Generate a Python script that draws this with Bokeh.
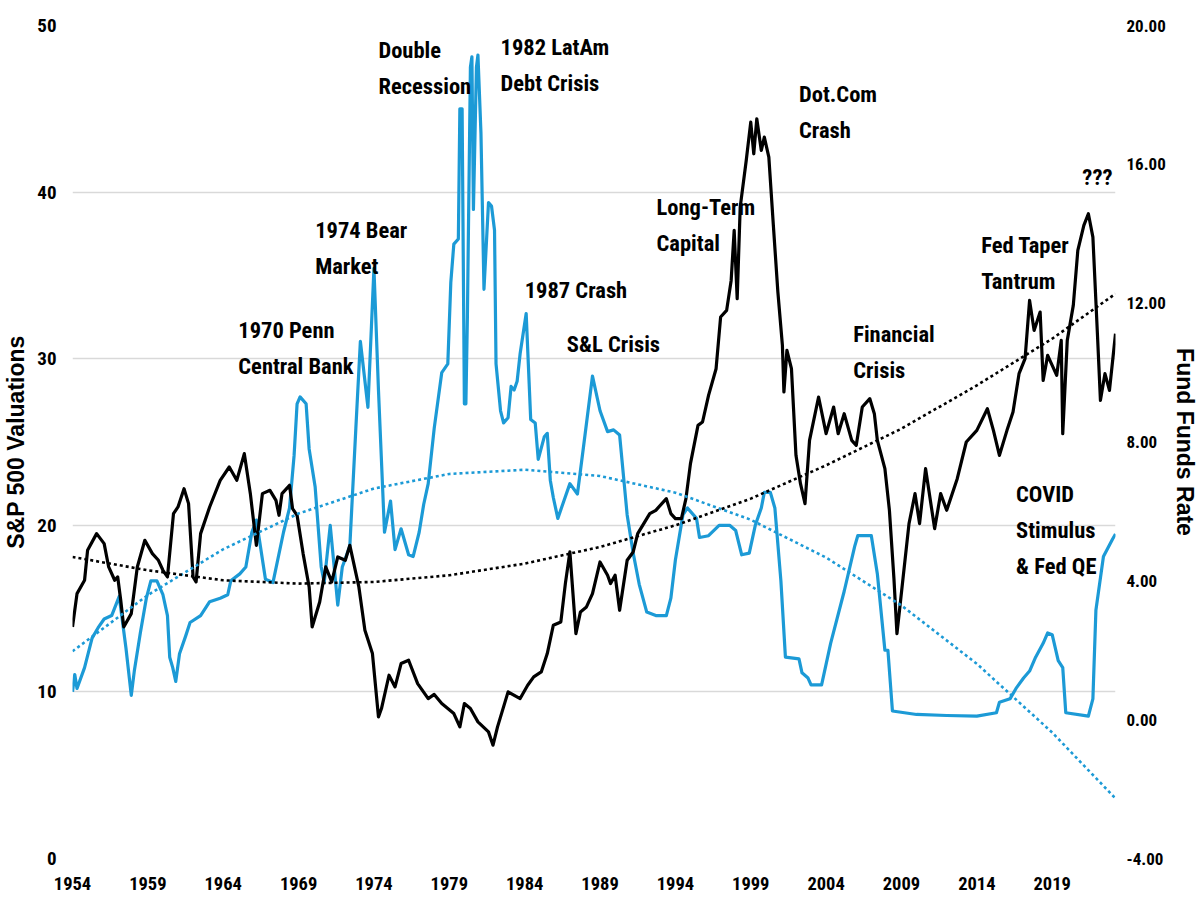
from bokeh.plotting import figure
from bokeh.models import Range1d, LinearAxis, FixedTicker, NumeralTickFormatter, ColumnDataSource
from bokeh.core.properties import value
from bokeh.embed import file_html
from bokeh.resources import INLINE

# ---------------- data ----------------
cape_year = [
    1954.0, 1954.3, 1954.8, 1955.0, 1955.6, 1956.1, 1956.4, 1956.8, 1957.0, 1957.2, 1957.4, 1957.9,
    1958.3, 1958.8, 1959.3, 1959.7,
    1960.0, 1960.3, 1960.7, 1961.0, 1961.4, 1961.7, 1962.0, 1962.2, 1962.5, 1963.1, 1963.8, 1964.4,
    1964.9, 1965.4, 1965.8, 1966.2, 1966.6, 1967.1, 1967.5, 1967.7, 1967.9, 1968.4, 1968.6, 1968.9,
    1969.3, 1969.7, 1969.9,
    1970.4, 1970.8, 1971.2, 1971.6, 1972.1, 1972.4, 1973.0, 1973.4, 1973.9, 1974.3, 1974.5, 1975.0,
    1975.4, 1975.8, 1976.3, 1976.9, 1977.6, 1978.0, 1978.5, 1978.9, 1979.3, 1979.7,
    1980.0, 1980.4, 1980.9, 1981.6, 1981.9, 1982.2, 1982.9, 1983.7, 1984.2, 1984.6, 1985.1, 1985.5,
    1985.9, 1986.4, 1986.7, 1987.0, 1987.4, 1987.7, 1988.1, 1988.5, 1989.0, 1989.5, 1989.7,
    1990.0, 1990.3, 1990.8, 1991.2, 1991.5, 1992.3, 1992.7, 1993.4, 1993.7, 1994.0, 1994.4, 1994.7,
    1995.0, 1995.5, 1995.8, 1996.2, 1996.7, 1997.0, 1997.4, 1997.7, 1997.9, 1998.1, 1998.3, 1998.7,
    1999.0, 1999.2, 1999.4, 1999.7, 1999.9,
    2000.2, 2000.5, 2000.8, 2001.1, 2001.2, 2001.4, 2001.7, 2002.0, 2002.3, 2002.6, 2002.9, 2003.5,
    2004.0, 2004.5, 2004.8, 2005.2, 2005.7, 2006.0, 2006.4, 2006.9, 2007.2, 2007.4, 2007.9, 2008.2,
    2008.5, 2008.7, 2009.1, 2009.5, 2009.9,
    2010.2, 2010.6, 2011.2, 2011.6, 2012.0, 2012.7, 2013.3, 2014.0, 2014.7, 2015.1, 2015.5, 2016.0,
    2016.4, 2016.8, 2017.2, 2017.5, 2017.8, 2018.2, 2018.4, 2018.7, 2019.0, 2019.3, 2019.6, 2019.7,
    2020.0, 2020.4, 2020.7, 2021.1, 2021.4, 2021.7, 2022.0, 2022.2, 2022.5, 2022.8, 2023.2,
]
cape_value = [
    13.9, 15.9, 16.7, 18.5, 19.5, 18.9, 17.5, 16.7, 16.9, 15.5, 13.9, 14.7,
    17.5, 19.1, 18.3, 17.9,
    17.3, 16.9, 20.7, 21.1, 22.2, 21.3, 16.9, 16.6, 19.5, 21.1, 22.7, 23.5,
    22.7, 24.3, 21.9, 18.8, 21.9, 22.1, 21.5, 20.6, 21.9, 22.4, 21.0, 20.6,
    18.3, 16.3, 13.9,
    15.4, 17.5, 16.6, 18.1, 17.9, 18.8, 16.3, 13.7, 12.3, 8.5, 9.0, 11.0,
    10.3, 11.7, 11.9, 10.5, 9.6, 9.85, 9.3, 9.0, 8.7, 7.9,
    9.3, 9.0, 8.2, 7.6, 6.8, 7.9, 10.0, 9.6, 10.4, 10.9, 11.2, 12.3,
    14.0, 14.2, 16.5, 18.4, 13.5, 14.8, 15.1, 15.9, 17.8, 17.0, 16.5,
    17.0, 14.9, 17.9, 18.4, 19.5, 20.7, 20.9, 21.6, 20.7, 20.4, 20.4, 21.6,
    23.7, 26.0, 26.2, 27.8, 29.4, 32.5, 32.9, 34.7, 37.7, 33.6, 39.1, 41.9,
    44.2, 42.3, 44.4, 42.5, 43.3,
    42.1, 38.0, 34.0, 30.8, 28.0, 30.5, 29.4, 24.2, 22.5, 21.3, 25.1, 27.7,
    25.5, 27.1, 25.5, 26.7, 25.1, 24.8, 27.1, 27.6, 26.7, 25.1, 23.4, 20.9,
    16.8, 13.5, 16.8, 20.1, 21.9,
    20.1, 23.4, 19.8, 21.9, 20.9, 22.8, 25.0, 25.7, 27.0, 25.7, 24.2, 25.7,
    26.8, 29.1, 30.0, 33.5, 31.7, 32.8, 28.7, 30.2, 29.6, 29.0, 31.1, 25.5,
    31.1, 33.2, 36.5, 38.0, 38.7, 37.3, 31.5, 27.5, 29.1, 28.1, 31.5,
]

ffr_year = [
    1954.0, 1954.15, 1954.3, 1954.8, 1955.3, 1955.7, 1956.1, 1956.6, 1957.1, 1957.55, 1957.9,
    1958.1, 1958.5, 1958.9, 1959.2, 1959.6,
    1960.0, 1960.3, 1960.45, 1960.65, 1960.85, 1961.1, 1961.5, 1961.8, 1962.5, 1963.1, 1963.8,
    1964.3, 1964.5, 1965.1, 1965.5, 1965.9, 1966.2, 1966.8, 1967.3, 1968.0, 1968.4, 1968.7, 1968.9,
    1969.1, 1969.5, 1969.7,
    1970.1, 1970.5, 1970.7, 1971.1, 1971.6, 1971.9, 1972.4, 1972.8, 1973.1, 1973.6, 1974.0, 1974.3,
    1974.7, 1975.1, 1975.4, 1975.8, 1976.3, 1976.6, 1977.0, 1977.3, 1977.6, 1978.0, 1978.5, 1978.9,
    1979.1, 1979.3, 1979.6, 1979.7, 1979.85,
    1980.0, 1980.1, 1980.2, 1980.4, 1980.5, 1980.6, 1980.8, 1980.9, 1981.1, 1981.3, 1981.6, 1981.8,
    1982.0, 1982.1, 1982.4, 1982.6, 1982.9, 1983.1, 1983.3, 1983.5, 1983.7, 1984.1, 1984.4, 1984.7,
    1984.9, 1985.3, 1985.5, 1985.7, 1985.9, 1986.2, 1986.6, 1987.0, 1987.5, 1987.9, 1988.5, 1989.0,
    1989.5, 1989.9,
    1990.3, 1990.8, 1991.2, 1991.6, 1992.1, 1992.7, 1993.4, 1993.7, 1994.0, 1994.5, 1994.8, 1995.4,
    1995.6, 1996.2, 1996.9, 1997.6, 1998.0, 1998.4, 1998.9, 1999.3, 1999.7, 1999.9,
    2000.3, 2000.6, 2001.0, 2001.3, 2002.2, 2002.4, 2002.8, 2003.0, 2003.7, 2004.3, 2005.2, 2005.9,
    2006.1, 2007.0, 2007.4, 2007.9, 2008.1, 2008.4,
    2010.0, 2012.0, 2014.0, 2015.3, 2015.5, 2016.2, 2016.6, 2017.1, 2017.5, 2017.9, 2018.4, 2018.7,
    2019.0, 2019.4, 2019.7, 2019.9, 2021.4, 2021.7, 2021.9, 2022.4, 2023.0, 2023.2,
]
ffr_value = [
    0.8, 1.3, 0.9, 1.5, 2.35, 2.65, 2.9, 3.0, 3.55, 2.05, 0.7,
    1.4, 2.5, 3.5, 4.0, 4.0,
    3.6, 3.0, 1.8, 1.5, 1.1, 1.9, 2.4, 2.8, 3.0, 3.4, 3.5,
    3.6, 4.0, 4.2, 4.4, 5.4, 5.75, 4.05, 3.95, 5.4, 6.1, 7.6, 9.1,
    9.3, 9.1, 7.8,
    6.7, 4.4, 3.95, 5.6, 3.3, 4.4, 5.0, 8.4, 10.9, 9.0, 13.0, 9.5,
    5.4, 6.3, 4.9, 5.5, 4.75, 4.7, 5.4, 6.2, 6.8, 8.4, 10.0, 10.25,
    12.6, 13.7, 13.85, 17.6, 17.6,
    9.1, 9.1, 11.6, 18.8, 19.1, 14.7, 18.8, 19.15, 16.9, 12.4, 14.9, 14.8,
    14.1, 10.25, 8.9, 8.55, 8.7, 9.6, 9.5, 9.75, 10.55, 11.7, 8.65, 8.55,
    7.5, 8.15, 8.25, 6.9, 6.4, 5.8, 6.3, 6.8, 6.5, 7.85, 9.9, 8.9,
    8.3, 8.35,
    8.2, 5.9, 4.8, 3.9, 3.1, 3.0, 3.0, 3.5, 4.6, 5.9, 6.1, 5.8,
    5.25, 5.3, 5.6, 5.6, 5.45, 4.75, 4.8, 5.6, 6.1, 6.55,
    6.55, 6.1, 4.0, 1.8, 1.75, 1.35, 1.2, 1.0, 1.0, 2.2, 3.7, 5.0,
    5.3, 5.3, 4.2, 2.0, 2.0, 0.25,
    0.15, 0.12, 0.1, 0.2, 0.5, 0.6, 0.9, 1.2, 1.4, 1.8, 2.2, 2.5,
    2.45, 1.7, 1.5, 0.2, 0.1, 0.6, 3.15, 4.7, 5.2, 5.35,
]

# polynomial trend lines
trend_year = [1954, 1959, 1964, 1969, 1974, 1979, 1984, 1989, 1994, 1999, 2004, 2009, 2014, 2019, 2023.2]
cape_trend = [18.1, 17.3, 16.7, 16.5, 16.6, 17.0, 17.7, 18.7, 20.0, 21.6, 23.6, 25.8, 28.4, 31.2, 33.9]
ffr_trend = [1.97, 3.59, 4.91, 5.94, 6.66, 7.08, 7.20, 7.02, 6.54, 5.76, 4.67, 3.29, 1.61, -0.37, -2.27]

x_ticks = [1954, 1959, 1964, 1969, 1974, 1979, 1984, 1989, 1994, 1999, 2004, 2009, 2014, 2019]
left_ticks = [0, 10, 20, 30, 40, 50]
right_ticks = [-4, 0, 4, 8, 12, 16, 20]

annotations = [
    ("1970 Penn\nCentral Bank", 1965.0, 31.7),
    ("1974 Bear\nMarket", 1970.1, 37.7),
    ("Double\nRecession", 1974.3, 48.5),
    ("1982 LatAm\nDebt Crisis", 1982.4, 48.7),
    ("1987 Crash", 1984.0, 34.1),
    ("S&L Crisis", 1986.8, 30.9),
    ("Long-Term\nCapital", 1992.75, 39.1),
    ("Dot.Com\nCrash", 2002.2, 45.9),
    ("Financial\nCrisis", 2005.8, 31.5),
    ("???", 2021.0, 40.9),
    ("Fed Taper\nTantrum", 2014.3, 36.8),
    ("COVID\nStimulus\n& Fed QE", 2016.6, 21.9),
]

# ---------------- styling ----------------
NARROW = "'Liberation Sans Narrow', 'Arial Narrow', 'Roboto Condensed', Roboto, sans-serif"
WIDE = "'Liberation Sans', Arial, sans-serif"
BLUE = "#1c9ad6"

p = figure(width=1200, height=900, output_backend="svg", toolbar_location=None,
           x_range=Range1d(1954, 2023.2), y_range=Range1d(0, 50),
           min_border_left=68, min_border_right=80, min_border_top=25, min_border_bottom=42)
p.extra_y_ranges = {"ffr": Range1d(-4, 20)}
p.outline_line_color = None
p.background_fill_color = "white"

right = LinearAxis(y_range_name="ffr")
p.add_layout(right, "right")

for ax in [p.xaxis[0], p.yaxis[0], right]:
    ax.axis_line_color = None
    ax.major_tick_line_color = None
    ax.minor_tick_line_color = None
    ax.major_tick_out = 0
    ax.major_tick_in = 0
    ax.major_label_text_font = NARROW
    ax.major_label_text_font_style = "bold"
    ax.major_label_text_color = "black"
    ax.major_label_text_font_size = "18.5px"
    ax.axis_label_text_font = WIDE
    ax.axis_label_text_font_style = "bold"
    ax.axis_label_text_font_size = "23px"
    ax.axis_label_text_color = "black"

p.xaxis[0].ticker = FixedTicker(ticks=x_ticks)
p.xaxis[0].major_label_standoff = 18
p.yaxis[0].ticker = FixedTicker(ticks=left_ticks)
p.yaxis[0].major_label_standoff = 16
p.yaxis[0].major_label_text_font_size = "19px"
p.yaxis[0].axis_label = "S&P 500 Valuations"
p.yaxis[0].axis_label_standoff = 5
right.ticker = FixedTicker(ticks=right_ticks)
right.formatter = NumeralTickFormatter(format="0.00")
right.major_label_standoff = 11
right.major_label_text_font_size = "17px"
right.axis_label = "Fund Funds Rate"
right.axis_label_standoff = 3

p.xgrid.visible = False
p.ygrid.ticker = FixedTicker(ticks=left_ticks)
p.ygrid.grid_line_color = "#d9d9d9"
p.ygrid.grid_line_width = 1.3

# ---------------- glyphs ----------------
p.line(ffr_year, ffr_value, y_range_name="ffr", line_color=BLUE, line_width=3.2, line_join="round")
p.line(cape_year, cape_value, line_color="black", line_width=3.2, line_join="round")
p.line(trend_year, ffr_trend, y_range_name="ffr", line_color=BLUE, line_width=2.6,
       line_dash="3 3")
p.line(trend_year, cape_trend, line_color="black", line_width=2.6, line_dash="3 3")

# annotations (each line of a label on its own row, offset in screen px)
rows = dict(x=[], y=[], text=[], dy=[])
for label, yr, val in annotations:
    for i, line in enumerate(label.split("\n")):
        rows["x"].append(yr)
        rows["y"].append(val)
        rows["text"].append(line)
        rows["dy"].append(i * 36)
src = ColumnDataSource(rows)
p.text(x="x", y="y", text="text", y_offset="dy", source=src,
       text_font=value(NARROW), text_font_style="bold", text_font_size="22.5px",
       text_color="black", text_baseline="middle", text_align="left")

open("out.html", "w").write(file_html(p, INLINE))
